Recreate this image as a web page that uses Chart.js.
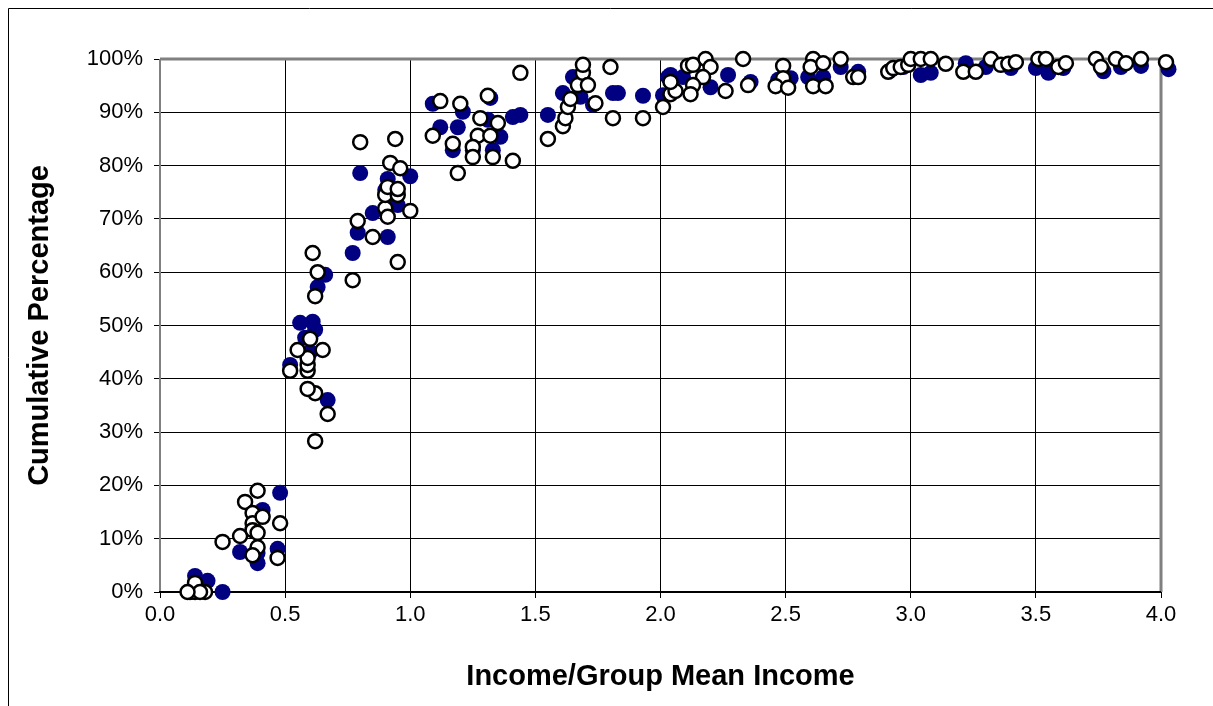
<!DOCTYPE html>
<html lang="en">
<head>
<meta charset="UTF-8">
<title>Cumulative Percentage</title>
<script src="https://cdn.jsdelivr.net/npm/chart.js@4.4.1/dist/chart.umd.min.js"></script>
<style>
    body { margin: 0; background: #fff; }
    .chart-box { position: relative; width: 1213px; height: 706px; }
</style>
</head>
<body>
<div class="chart-box"><canvas id="chart"></canvas></div>
<script>
// x ticks (income / group mean income) and y ticks (percent)
const xTicks = [0, 0.5, 1, 1.5, 2, 2.5, 3, 3.5, 4];
const yTicks = [0, 10, 20, 30, 40, 50, 60, 70, 80, 90, 100];

// filled navy series
const navyX = [0.14, 0.19, 0.16, 0.12, 0.25, 0.32, 0.39, 0.39, 0.41, 0.48, 0.47, 0.37,
    0.67, 0.52, 0.60, 0.58, 0.62, 0.56, 0.61, 0.63, 0.66, 0.77, 0.79, 0.91, 0.85, 0.95,
    0.93, 0.91, 0.90, 0.80, 1.00, 1.17, 1.25, 1.33, 1.36, 1.19, 1.12, 1.21, 1.09, 1.32,
    1.31, 1.41, 1.44, 1.55, 1.61, 1.65, 1.68, 1.73, 1.81, 1.83, 1.93, 2.01, 2.03, 2.04,
    2.09, 2.20, 2.27, 2.36, 2.47, 2.52, 2.59, 2.65, 2.72, 2.79, 2.92, 2.97, 3.04, 3.08,
    3.22, 3.30, 3.40, 3.50, 3.55, 3.61, 3.77, 3.84, 3.92, 4.03];
const navyY = [3.0, 2.1, 0.8, 0, 0, 7.5, 5.4, 7.3, 15.4, 18.6, 8.1, 12.0,
    36.0, 42.6, 45.0, 47.7, 49.2, 50.5, 50.7, 57.2, 59.5, 63.6, 67.4, 66.6, 71.1, 72.6,
    73.5, 77.5, 75.4, 78.6, 78.0, 82.9, 82.9, 82.9, 85.4, 87.2, 87.2, 90.1, 91.6, 92.7,
    88.6, 89.1, 89.5, 89.5, 93.6, 96.6, 92.9, 91.4, 93.6, 93.6, 93.1, 93.2, 96.6, 97.0,
    96.6, 94.7, 97.0, 95.7, 96.1, 96.4, 96.6, 96.6, 98.5, 97.6, 97.9, 98.5, 97.0, 97.4,
    99.2, 98.5, 98.3, 98.3, 97.4, 98.3, 97.7, 98.5, 98.7, 98.1];

// open (white) series
const openX = [0.12, 0.14, 0.14, 0.18, 0.16, 0.11, 0.25, 0.32, 0.34, 0.39, 0.37, 0.37,
    0.37, 0.39, 0.41, 0.39, 0.37, 0.48, 0.47, 0.62, 0.67, 0.62, 0.59, 0.59, 0.52, 0.59,
    0.59, 0.55, 0.65, 0.60, 0.62, 0.63, 0.61, 0.77, 0.79, 0.85, 0.95, 0.90, 0.91, 1.00,
    0.90, 0.95, 0.91, 0.95, 0.92, 0.96, 0.80, 0.94, 1.09, 1.17, 1.19, 1.12, 1.20, 1.31,
    1.44, 1.28, 1.35, 1.27, 1.32, 1.25, 1.25, 1.33, 1.41, 1.55, 1.61, 1.62, 1.63, 1.64,
    1.67, 1.69, 1.69, 1.71, 1.74, 1.80, 1.81, 1.93, 2.01, 2.04, 2.06, 2.04, 2.11, 2.13,
    2.18, 2.20, 2.17, 2.13, 2.12, 2.33, 2.35, 2.26, 2.49, 2.49, 2.46, 2.51, 2.61, 2.60,
    2.65, 2.61, 2.66, 2.72, 2.77, 2.79, 2.91, 2.93, 2.96, 2.99, 3.00, 3.04, 3.08, 3.14,
    3.21, 3.26, 3.32, 3.36, 3.39, 3.42, 3.51, 3.54, 3.59, 3.62, 3.74, 3.76, 3.82, 3.86,
    3.92, 4.02, 4.05, 4.06];
const openY = [0, 0, 1.7, 0, 0, 0, 9.4, 10.5, 16.9, 19.0, 14.8, 12.9,
    11.6, 11.1, 14.1, 8.4, 6.9, 12.9, 6.4, 28.3, 33.4, 37.3, 38.1, 41.5, 41.5, 42.6,
    43.9, 45.4, 45.4, 47.5, 55.5, 60.0, 63.6, 58.5, 69.6, 66.6, 61.9, 72.0, 70.4, 71.5,
    74.5, 74.5, 76.0, 75.6, 80.5, 79.5, 84.4, 85.0, 85.6, 84.1, 78.6, 92.1, 91.6, 93.1,
    97.4, 88.9, 88.0, 85.6, 85.6, 83.5, 81.6, 81.6, 80.9, 85.0, 87.4, 88.9, 91.0, 92.5,
    95.1, 97.4, 98.9, 95.1, 91.7, 98.5, 88.9, 88.9, 91.0, 93.4, 94.0, 95.7, 98.7, 98.9,
    100, 98.5, 96.6, 95.1, 93.4, 100, 95.1, 94.0, 98.7, 96.4, 94.9, 94.6, 100, 98.5,
    99.2, 94.9, 94.9, 100, 96.6, 96.6, 97.6, 98.3, 98.5, 98.9, 100, 100, 100, 99.1,
    97.6, 97.6, 100, 98.9, 99.1, 99.4, 100, 100, 98.5, 99.2, 100, 98.5, 100, 99.2,
    100, 99.4, 99.2, 100];

const toPoints = (xs, ys) => xs.map((x, i) => ({ x: x, y: ys[i] }));

// outer frame + plot area border
const framePlugin = {
    id: 'frame',
    beforeDraw(chart) {
        const ctx = chart.ctx;
        ctx.save();
        ctx.fillStyle = '#fff';
        ctx.fillRect(0, 0, chart.width, chart.height);
        ctx.strokeStyle = '#000';
        ctx.lineWidth = 1;
        ctx.beginPath();
        ctx.moveTo(8.5, chart.height);
        ctx.lineTo(8.5, 8.5);
        ctx.lineTo(chart.width, 8.5);
        ctx.stroke();
        ctx.restore();
    },
    beforeDatasetsDraw(chart) {
        const { ctx, chartArea: a } = chart;
        ctx.save();
        ctx.strokeStyle = '#808080';
        ctx.lineWidth = 3;
        ctx.beginPath();
        ctx.moveTo(a.left, a.top);
        ctx.lineTo(a.right, a.top);
        ctx.lineTo(a.right, a.bottom);
        ctx.stroke();
        ctx.lineWidth = 2;
        ctx.beginPath();
        ctx.moveTo(a.left, a.top);
        ctx.lineTo(a.left, a.bottom);
        ctx.stroke();
        ctx.strokeStyle = '#000';
        ctx.beginPath();
        ctx.moveTo(a.left - 1, a.bottom);
        ctx.lineTo(a.right, a.bottom);
        ctx.stroke();
        ctx.restore();
    }
};

const tickFont = { family: "'Liberation Sans', Arial, sans-serif", size: 22 };
const titleFont = { family: "'Liberation Sans', Arial, sans-serif", size: 29, weight: 'bold' };

new Chart(document.getElementById('chart'), {
    type: 'scatter',
    data: {
        datasets: [{
            label: 'Open',
            data: toPoints(openX, openY),
            order: 0,
            clip: false,
            pointRadius: 7,
            pointBorderWidth: 2.5,
            pointBackgroundColor: '#fff',
            pointBorderColor: '#000'
        }, {
            label: 'Filled',
            data: toPoints(navyX, navyY),
            order: 1,
            clip: false,
            pointRadius: 8,
            pointBorderWidth: 0,
            pointBackgroundColor: '#000080',
            pointBorderColor: '#000080'
        }]
    },
    options: {
        responsive: true,
        maintainAspectRatio: false,
        animation: false,
        layout: { padding: { left: 8, top: 59, right: 52, bottom: 0 } },
        plugins: { legend: { display: false }, tooltip: { enabled: false } },
        scales: {
            x: {
                type: 'linear',
                min: 0,
                max: 4,
                afterFit: s => { s.height = 114; },
                afterBuildTicks: s => { s.ticks = xTicks.map(v => ({ value: v })); },
                ticks: {
                    color: '#000',
                    font: tickFont,
                    padding: 4,
                    callback: v => v.toFixed(1)
                },
                grid: { color: '#000', lineWidth: 1, tickLength: 6 },
                border: { display: false },
                title: {
                    display: true,
                    text: 'Income/Group Mean Income',
                    color: '#000',
                    font: titleFont,
                    padding: { top: 0, bottom: 12 }
                }
            },
            y: {
                type: 'linear',
                min: 0,
                max: 100,
                afterFit: s => { s.width = 152; },
                afterBuildTicks: s => { s.ticks = yTicks.map(v => ({ value: v })); },
                ticks: {
                    color: '#000',
                    font: tickFont,
                    padding: 11,
                    callback: v => v + '%'
                },
                grid: { color: '#000', lineWidth: 1, tickLength: 6 },
                border: { display: false },
                title: {
                    display: true,
                    text: 'Cumulative Percentage',
                    color: '#000',
                    font: titleFont,
                    padding: { top: 15, bottom: 0 }
                }
            }
        }
    },
    plugins: [framePlugin]
});
</script>
</body>
</html>
